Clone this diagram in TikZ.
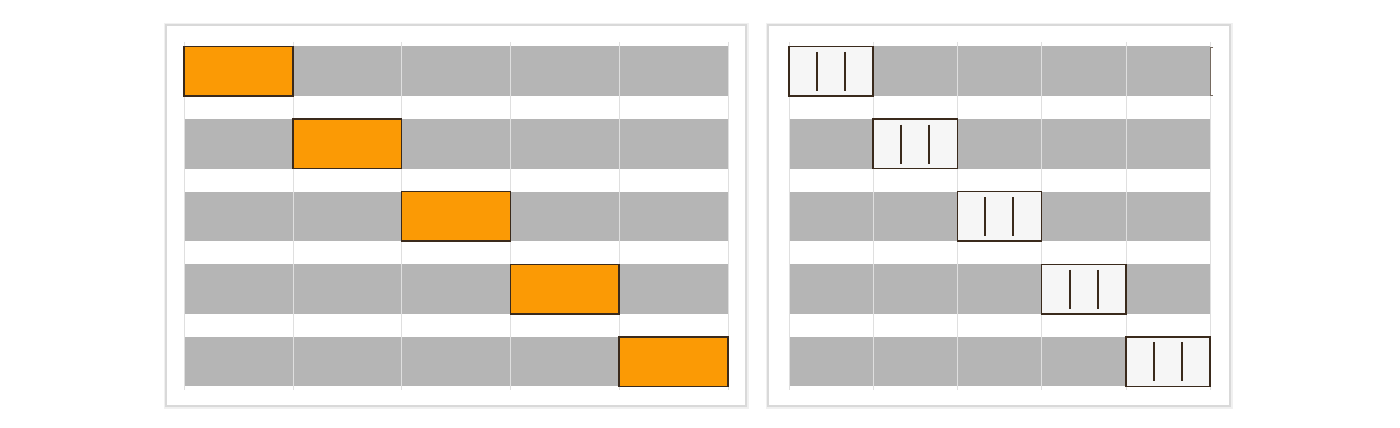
\documentclass[tikz,border=0pt]{standalone}
\usepackage{tikz}
\usetikzlibrary{calc}

\definecolor{barorange}{HTML}{FB9A05}
\definecolor{bargray}{HTML}{B5B5B5}
\definecolor{celledge}{HTML}{3A2A1C}
\definecolor{cellwhite}{HTML}{F6F6F6}

\tikzset{
  panel/.style={draw=gray!30,line width=1.2pt,fill=white},
  panelshade/.style={draw=gray!12,line width=2pt},
  gridline/.style={draw=gray!25,line width=0.6pt},
  bar/.style={fill=bargray},
  hotcell/.style={draw=celledge,line width=1.5pt,fill=barorange},
  pausecell/.style={draw=celledge,line width=1.5pt,fill=cellwhite},
  pausebar/.style={draw=celledge,line width=2pt}
}

\begin{document}
\begin{tikzpicture}[x=1pt,y=-1pt]
  \useasboundingbox (0,0) rectangle (1400,428);

  %panneaux
  \draw[panelshade] (165,24) rectangle (748,408);
  \draw[panel] (166,25) rectangle (746,406);
  \draw[panelshade] (767,24) rectangle (1232,408);
  \draw[panel] (768,25) rectangle (1230,406);

  %grille gauche : colonnes de 108.8, lignes tous les 72.6
  \foreach \r in {0,...,4}{
    \fill[bar] (184,46.5+72.6*\r) rectangle (728,96+72.6*\r);
  }
  \foreach \c in {0,...,5}{
    \draw[gridline] (184+108.8*\c,42) -- (184+108.8*\c,390);
  }
  \foreach \r in {0,...,4}{
    \draw[hotcell] (184+108.8*\r,46.5+72.6*\r) rectangle (292.8+108.8*\r,96+72.6*\r);
  }

  %grille droite : colonnes de 84.2
  \foreach \r in {0,...,4}{
    \fill[bar] (789,46.5+72.6*\r) rectangle (1210,96+72.6*\r);
  }
  \foreach \c in {0,...,5}{
    \draw[gridline] (789+84.2*\c,42) -- (789+84.2*\c,390);
  }
  \foreach \r in {0,...,4}{
    \draw[pausecell] (789+84.2*\r,46.5+72.6*\r) rectangle (873.2+84.2*\r,96+72.6*\r);
    \draw[pausebar] (817+84.2*\r,52+72.6*\r) -- (817+84.2*\r,91+72.6*\r);
    \draw[pausebar] (845+84.2*\r,52+72.6*\r) -- (845+84.2*\r,91+72.6*\r);
  }
  %petit crochet en fin de premiere ligne
  \draw[celledge!70,line width=0.8pt] (1213,47.5) -- (1210.5,47.5) -- (1210.5,95) -- (1213,95);
\end{tikzpicture}
\end{document}
